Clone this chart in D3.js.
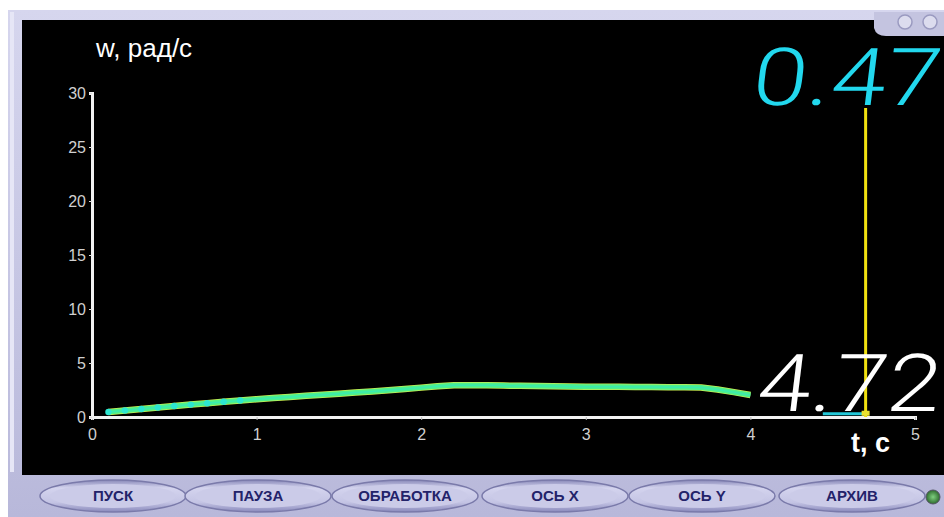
<!DOCTYPE html>
<html><head><meta charset="utf-8">
<script src="https://cdn.jsdelivr.net/npm/d3@7"></script>
<style>body{margin:0;background:#fff;overflow:hidden}svg{display:block}</style>
</head><body>
<svg id="c" width="944" height="517"></svg>
<script>
const tValues = [0.1,0.2,0.3,0.4,0.5,0.6,0.7,0.8,0.9,1.0,1.1,1.2,1.3,1.4,1.5,1.6,1.7,1.8,1.9,2.0,2.1,2.2,2.3,2.4,2.5,2.6,2.7,2.8,2.9,3.0,3.1,3.2,3.3,3.4,3.5,3.6,3.7,3.8,3.9,4.0];
const wValues = [0.46,0.60,0.74,0.88,1.02,1.15,1.28,1.41,1.53,1.65,1.76,1.86,1.96,2.06,2.16,2.26,2.36,2.48,2.60,2.72,2.84,2.93,2.95,2.93,2.91,2.89,2.87,2.85,2.83,2.81,2.80,2.79,2.78,2.77,2.76,2.75,2.74,2.55,2.30,2.04];
const xTicks = [0,1,2,3,4,5];
const yTicks = [0,5,10,15,20,25,30];
const cursorT = 4.70;
const timeReadout = "4.72";
const valueReadout = "0.47";
const buttons = ["ПУСК","ПАУЗА","ОБРАБОТКА","ОСЬ X","ОСЬ Y","АРХИВ"];
const buttonCenters = [113,258,405,555,702,852];

const svg = d3.select("#c");
const defs = svg.append("defs");
const g1 = defs.append("linearGradient").attr("id","frameG").attr("x1",0).attr("y1",0).attr("x2",0).attr("y2",1);
g1.append("stop").attr("offset","0").attr("stop-color","#d6d6ee");
g1.append("stop").attr("offset","1").attr("stop-color","#b8b8da");
const g2 = defs.append("linearGradient").attr("id","btnG").attr("x1",0).attr("y1",0).attr("x2",0).attr("y2",1);
g2.append("stop").attr("offset","0").attr("stop-color","#8888b8");
g2.append("stop").attr("offset","0.25").attr("stop-color","#d4d4ee");
g2.append("stop").attr("offset","0.7").attr("stop-color","#c4c4e4");
g2.append("stop").attr("offset","1").attr("stop-color","#8a8abc");
const g3 = defs.append("radialGradient").attr("id","ledG");
g3.append("stop").attr("offset","0").attr("stop-color","#7fd07f");
g3.append("stop").attr("offset","1").attr("stop-color","#2e6a2e");

// frame
svg.append("rect").attr("x",0).attr("y",0).attr("width",944).attr("height",517).attr("fill","#ffffff");
svg.append("rect").attr("x",8).attr("y",10).attr("width",936).attr("height",507).attr("fill","url(#frameG)");
svg.append("rect").attr("x",10).attr("y",12).attr("width",4).attr("height",460).attr("fill","#e6e6f6");
svg.append("rect").attr("x",22).attr("y",20).attr("width",922).attr("height",455).attr("fill","#000");
// top-right tab
svg.append("path").attr("d","M874,12 L944,12 L944,36 L886,36 Q876,36 874,28 Z").attr("fill","#c4c4e0");
[905,930].forEach(cx=>{
  svg.append("circle").attr("cx",cx).attr("cy",22).attr("r",7).attr("fill","#dcdcee").attr("stroke","#9a9ac0").attr("stroke-width",1.5);
});

const x = d3.scaleLinear().domain([0,5]).range([92,915]);
const y = d3.scaleLinear().domain([0,30]).range([417,93]);

// axes
const font = "Liberation Sans, Arial, sans-serif";
const xAxis = d3.axisBottom(x).tickValues(xTicks).tickSize(3).tickPadding(9).tickFormat(d3.format("d"));
const gx = svg.append("g").attr("transform","translate(0,417)").call(xAxis);
gx.select(".domain").attr("stroke","#f2f2f2").attr("stroke-width",3);
gx.selectAll(".tick line").attr("stroke","#bbb");
gx.selectAll("text").attr("fill","#d0d0d0").attr("font-family",font).attr("font-size",16);

const yAxis = d3.axisLeft(y).tickValues(yTicks).tickSize(3).tickPadding(3).tickFormat(d3.format("d"));
const gy = svg.append("g").attr("transform","translate(92,0)").call(yAxis);
gy.select(".domain").attr("stroke","#f2f2f2").attr("stroke-width",3);
gy.selectAll(".tick line").attr("stroke","#ddd");
gy.selectAll("text").attr("fill","#d0d0d0").attr("font-family",font).attr("font-size",16);

svg.append("text").attr("x",96).attr("y",57).text("w, рад/с")
  .attr("fill","#fff").attr("font-family",font).attr("font-size",26);
svg.append("text").attr("x",851).attr("y",452).text("t, с")
  .attr("fill","#fff").attr("font-family",font).attr("font-weight","bold").attr("font-size",27);

// data line
const data = tValues.map((t,i)=>({t, w:wValues[i]}));
const line = d3.line().x(d=>x(d.t)).y(d=>y(d.w));
svg.append("path").datum(data).attr("d",line).attr("fill","none").attr("stroke","#c8ee50").attr("stroke-width",6.5).attr("stroke-linejoin","round");
svg.append("path").datum(data).attr("d",line).attr("fill","none").attr("stroke","#4ef08c").attr("stroke-width",5).attr("stroke-linejoin","round");
svg.append("path").datum(data).attr("d",line).attr("fill","none").attr("stroke","#30e6c8").attr("stroke-width",1.5).attr("opacity",0.6);
svg.selectAll("circle.pt").data(data.filter(d=>d.t<1.0)).enter().append("circle").attr("class","pt")
  .attr("cx",d=>x(d.t)).attr("cy",d=>y(d.w)).attr("r",3.2).attr("fill","#2ee6d0");

// readouts
function readout(txt, xs, ys, color, len){
  const k = Math.tan(7*Math.PI/180);
  svg.append("text").attr("x",xs).attr("y",ys).text(txt)
    .attr("fill",color).attr("font-family","Roboto, sans-serif").attr("font-weight",300)
    .attr("font-size",80).attr("textLength",len).attr("lengthAdjust","spacingAndGlyphs")
    .attr("transform",`translate(${ys*k},0) skewX(-7)`);
}
readout(valueReadout, 750, 105, "#22d8ee", 188);
// cursor
svg.append("line").attr("x1",x(cursorT)).attr("x2",x(cursorT)).attr("y1",108).attr("y2",y(0)).attr("stroke","#f0e010").attr("stroke-width",3);
svg.append("line").attr("x1",x(4.44)).attr("x2",x(cursorT)).attr("y1",y(0.3)).attr("y2",y(0.3)).attr("stroke","#22c8d8").attr("stroke-width",3);
svg.append("rect").attr("x",x(cursorT)-4).attr("y",y(0.3)-3).attr("width",8).attr("height",5).attr("fill","#e8e030");
readout(timeReadout, 755, 411, "#ffffff", 183);

// buttons
const bw = 146;
buttons.forEach((b,i)=>{
  const cx = buttonCenters[i];
  svg.append("ellipse").attr("cx",cx).attr("cy",496).attr("rx",bw/2).attr("ry",16).attr("fill","url(#btnG)").attr("stroke","#7a7aaa").attr("stroke-width",1.5);
  svg.append("ellipse").attr("cx",cx).attr("cy",496).attr("rx",bw/2-10).attr("ry",12).attr("fill","#cbcbe8");
  svg.append("text").attr("x",cx).attr("y",501).attr("text-anchor","middle").text(b)
    .attr("fill","#23236a").attr("font-family","Liberation Sans Narrow, Liberation Sans, Arial, sans-serif").attr("font-weight","bold").attr("font-size",15);
});
svg.append("circle").attr("cx",933).attr("cy",497).attr("r",7).attr("fill","url(#ledG)").attr("stroke","#556").attr("stroke-width",1);
</script>
</body></html>
